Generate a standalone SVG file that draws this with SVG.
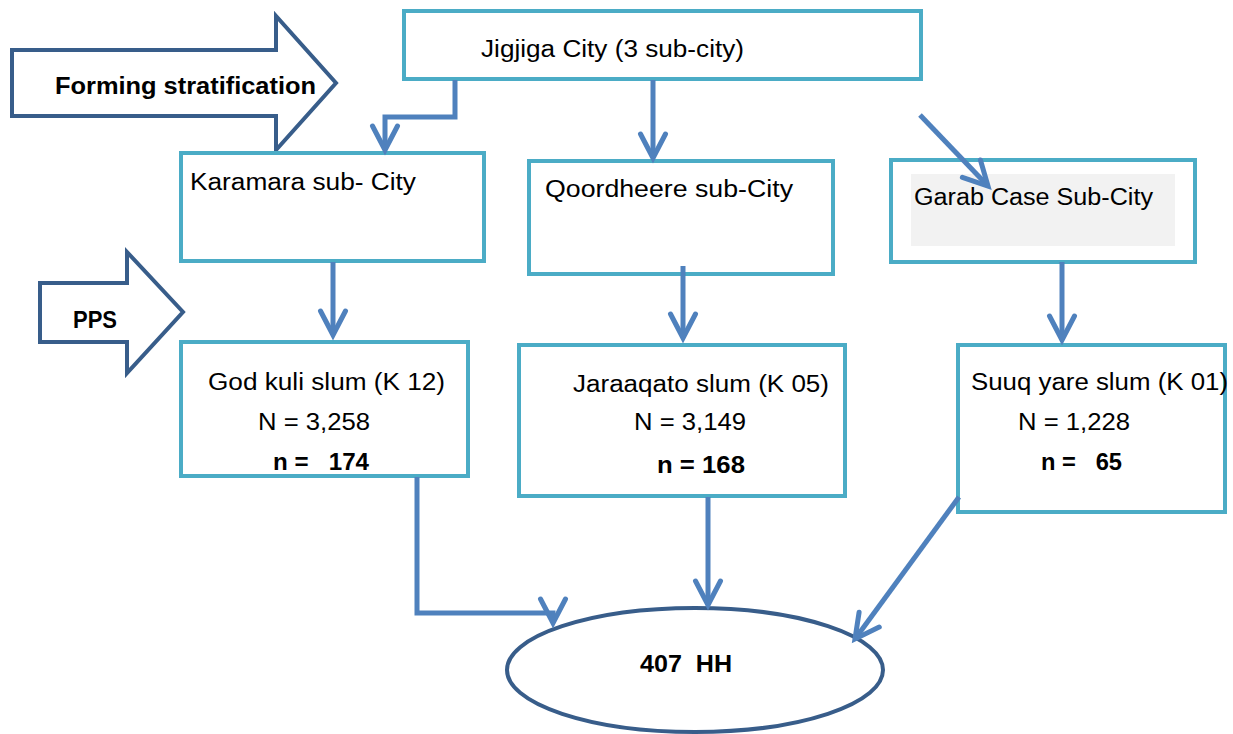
<svg xmlns="http://www.w3.org/2000/svg" width="1233" height="734" viewBox="0 0 1233 734">
<style>
.box{fill:#fff;stroke:#4BACC6;stroke-width:4}
.big{fill:#fff;stroke:#385D8A;stroke-width:4;stroke-linejoin:miter}
.con{fill:none;stroke:#4F81BD;stroke-width:5}
.t{font-family:"Liberation Sans",Arial,sans-serif;font-size:23px;fill:#000}
.b{font-weight:bold}
</style>
<defs>
<marker id="ah" markerUnits="userSpaceOnUse" markerWidth="34" markerHeight="34" viewBox="-28 -17 34 34" refX="0" refY="0" orient="auto" overflow="visible">
<path d="M-24,-12.5 L0,0 L-24,12.5" fill="none" stroke="#4F81BD" stroke-width="5" stroke-linecap="round" stroke-linejoin="miter"/>
</marker>
</defs>
<rect width="1233" height="734" fill="#fff"/>
<g id="forming-stratification">
<path class="big" d="M12,50 H276 V16 L336,83 L276,150 V116 H12 Z"/>
<text class="t b" x="55" y="94" textLength="261" lengthAdjust="spacingAndGlyphs">Forming stratification</text>
</g>
<g id="pps">
<path class="big" d="M40,283 H127 V252 L183,312 L127,373 V342 H40 Z"/>
<text class="t b" x="73" y="328" textLength="44" lengthAdjust="spacingAndGlyphs">PPS</text>
</g>
<g id="jigjiga">
<rect class="box" x="404" y="11" width="517" height="68"/>
<text class="t" x="481" y="57" textLength="263" lengthAdjust="spacingAndGlyphs">Jigjiga City (3 sub-city)</text>
</g>
<g id="karamara">
<rect class="box" x="181" y="153" width="303" height="108"/>
<text class="t" x="190" y="190" textLength="226" lengthAdjust="spacingAndGlyphs">Karamara sub- City</text>
</g>
<g id="qoordheere">
<rect class="box" x="529" y="161" width="304" height="113"/>
<text class="t" x="545" y="197" textLength="248" lengthAdjust="spacingAndGlyphs">Qoordheere sub-City</text>
</g>
<g id="garab">
<rect class="box" x="891" y="160" width="304" height="102"/>
<rect x="911" y="174" width="264" height="72" fill="#F2F2F2"/>
<text class="t" x="914" y="205" textLength="239" lengthAdjust="spacingAndGlyphs">Garab Case Sub-City</text>
</g>
<g id="godkuli">
<rect class="box" x="181" y="342" width="287" height="134"/>
<text class="t" x="208" y="390" textLength="237" lengthAdjust="spacingAndGlyphs">God kuli slum (K 12)</text>
<text class="t" x="258" y="430" textLength="112" lengthAdjust="spacingAndGlyphs">N = 3,258</text>
<text class="t b" x="273" y="470" xml:space="preserve" textLength="96" lengthAdjust="spacingAndGlyphs">n =   174</text>
</g>
<g id="jaraaqato">
<rect class="box" x="519" y="345" width="326" height="151"/>
<text class="t" x="573" y="392" textLength="256" lengthAdjust="spacingAndGlyphs">Jaraaqato slum (K 05)</text>
<text class="t" x="634" y="430" textLength="112" lengthAdjust="spacingAndGlyphs">N = 3,149</text>
<text class="t b" x="657" y="473" textLength="88" lengthAdjust="spacingAndGlyphs">n = 168</text>
</g>
<g id="suuq">
<rect class="box" x="958" y="345" width="267" height="167"/>
<text class="t" x="971" y="390" textLength="257" lengthAdjust="spacingAndGlyphs">Suuq yare slum (K 01)</text>
<text class="t" x="1018" y="430" textLength="112" lengthAdjust="spacingAndGlyphs">N = 1,228</text>
<text class="t b" x="1041" y="470" xml:space="preserve" textLength="81" lengthAdjust="spacingAndGlyphs">n =   65</text>
</g>
<g id="total">
<ellipse cx="695" cy="670" rx="188" ry="62" fill="#fff" stroke="#385D8A" stroke-width="4"/>
<text class="t b" x="640" y="672" xml:space="preserve" textLength="92" lengthAdjust="spacingAndGlyphs">407  HH</text>
</g>
<g id="connectors">
<path class="con" d="M455,80 V117 H385 V150" marker-end="url(#ah)"/>
<path class="con" d="M653,80 V158" marker-end="url(#ah)"/>
<path class="con" d="M920,115 L988,186" marker-end="url(#ah)"/>
<path class="con" d="M333,262 V335" marker-end="url(#ah)"/>
<path class="con" d="M683,266 V338" marker-end="url(#ah)"/>
<path class="con" d="M1062,262 V340" marker-end="url(#ah)"/>
<path class="con" d="M417,477 V613 H553 V623" marker-end="url(#ah)"/>
<path class="con" d="M708,497 V605" marker-end="url(#ah)"/>
<path class="con" d="M959,497 L855,639" marker-end="url(#ah)"/>
</g>
</svg>
